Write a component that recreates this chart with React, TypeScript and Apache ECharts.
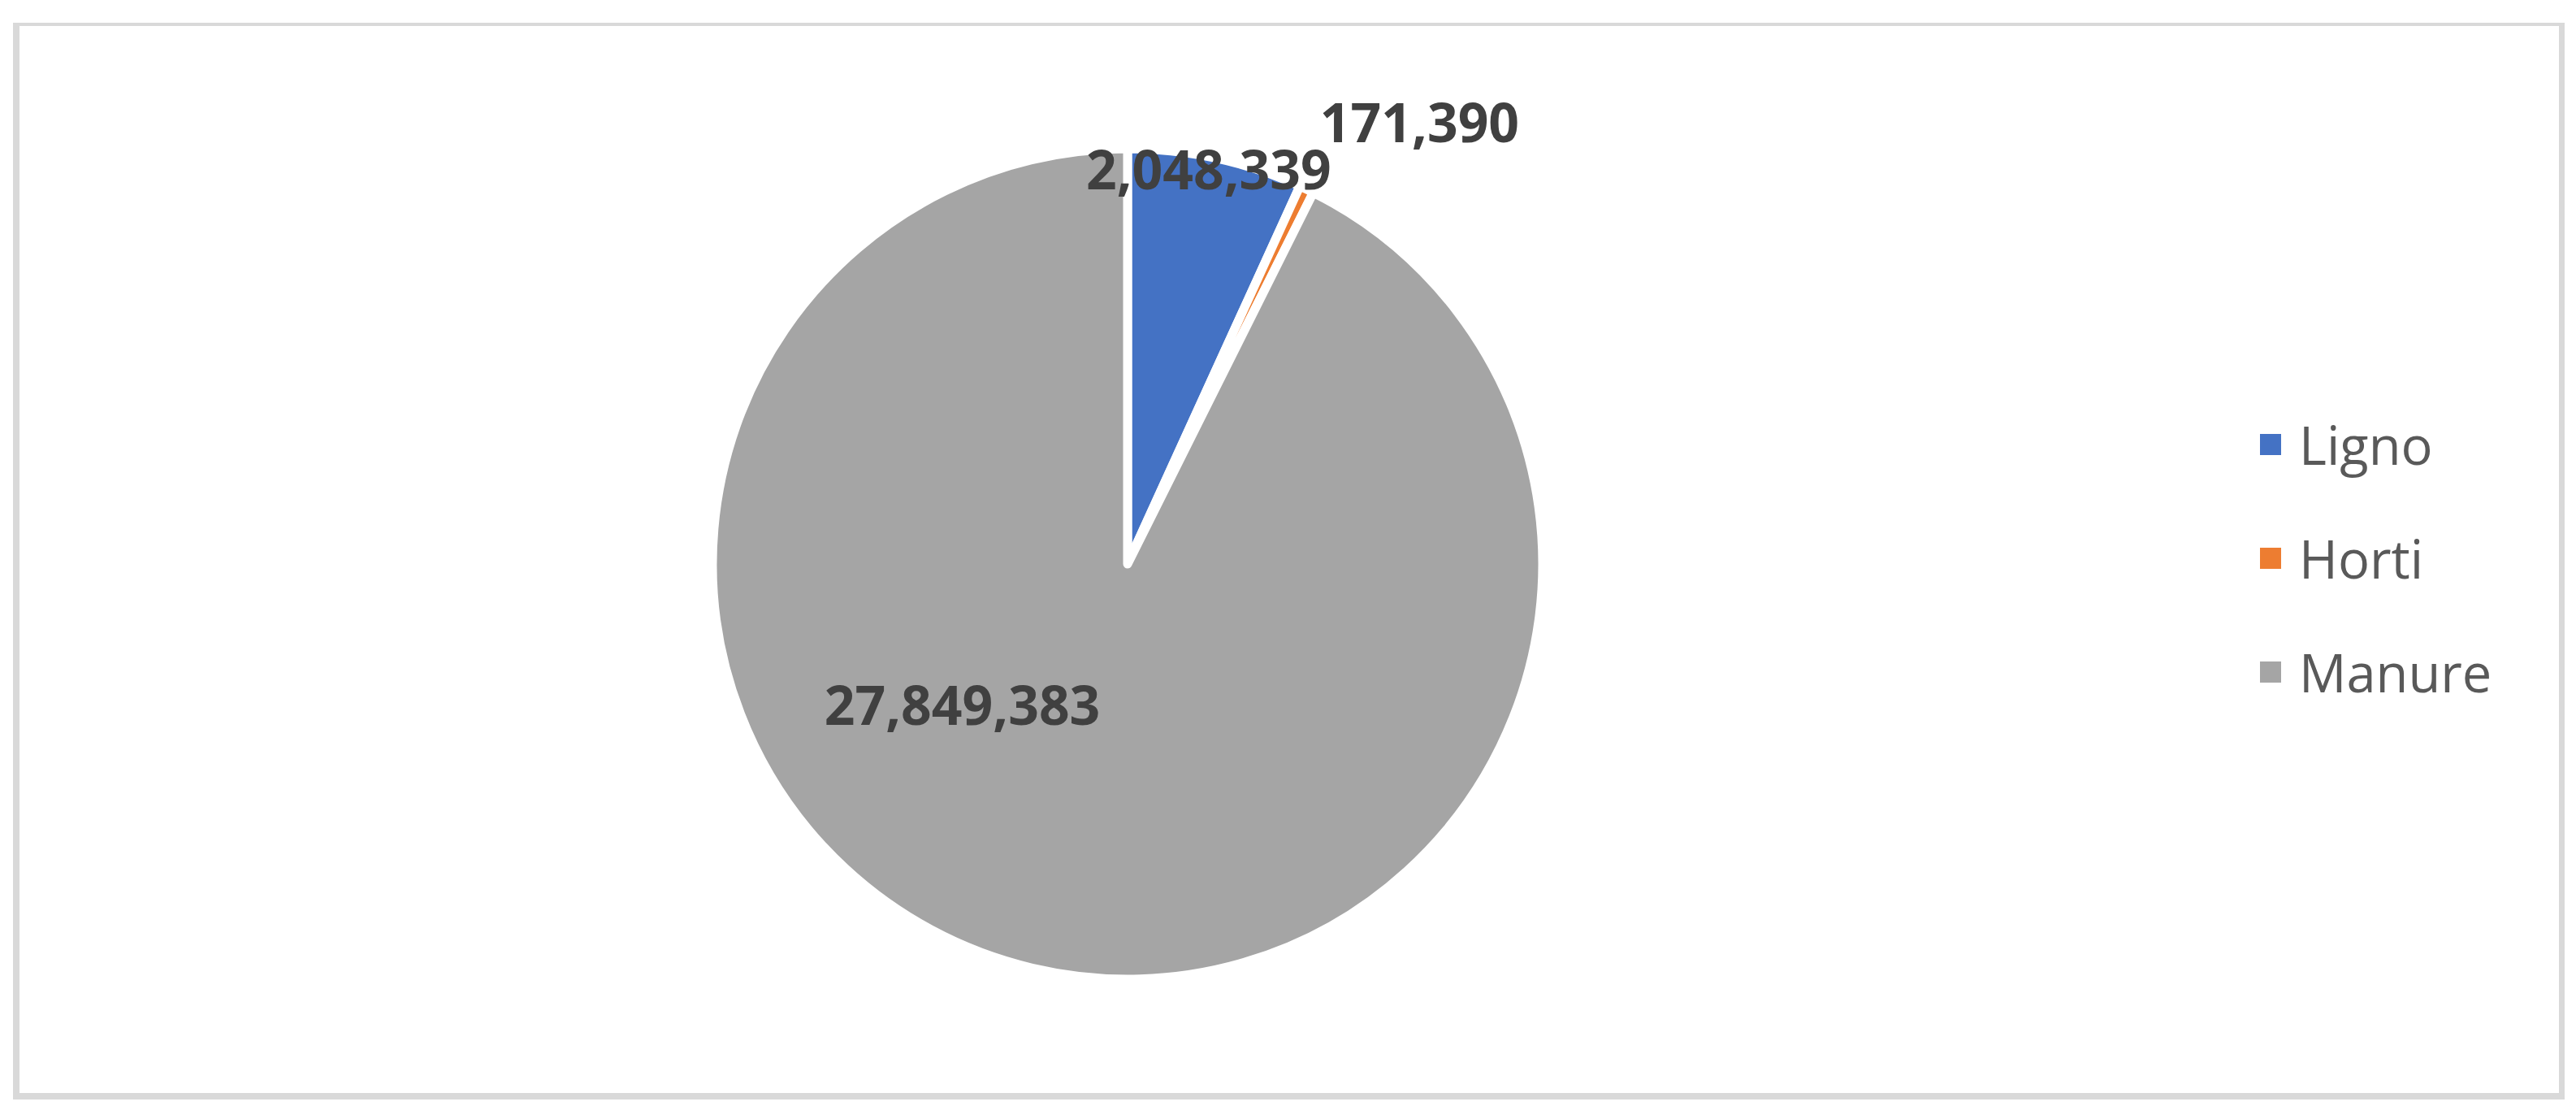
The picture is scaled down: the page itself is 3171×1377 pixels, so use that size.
import React, { useEffect, useRef } from "react";
import * as echarts from "echarts";

const categories = ["Ligno", "Horti", "Manure"];
const values = [2048339, 171390, 27849383];
const colors = ["#4472C4", "#ED7D31", "#A5A5A5"];
// label offsets relative to default inside label position
const labelOffsets = [
  [45, -234],
  [248, -312],
  [-144, -80],
];

export default function App() {
  const ref = useRef<HTMLDivElement>(null);
  useEffect(() => {
    if (!ref.current) return;
    const chart = echarts.init(ref.current, null, { renderer: "svg" });
    chart.setOption({
      animation: false,
      backgroundColor: "#ffffff",
      graphic: [
        { type: "rect", z: -10, shape: { x: 16, y: 28, width: 3141, height: 1325 }, style: { fill: "#d9d9d9" } },
        { type: "rect", z: -9, shape: { x: 24, y: 32, width: 3126, height: 1313 }, style: { fill: "#ffffff" } },
      ],
      legend: {
        orient: "vertical",
        left: 2775,
        top: 507,
        icon: "rect",
        itemWidth: 28,
        itemHeight: 28,
        itemGap: 70,
        data: categories,
        textStyle: {
          fontFamily: "Open Sans",
          fontSize: 65,
          color: "#595959",
          lineHeight: 70,
          padding: [0, 0, 0, 16],
        },
      },
      series: [
        {
          type: "pie",
          center: [1388, 694],
          radius: 511,
          startAngle: 90,
          clockwise: true,
          avoidLabelOverlap: false,
          itemStyle: { borderColor: "#ffffff", borderWidth: 11, borderJoin: "round" },
          label: {
            show: true,
            position: "inside",
            fontFamily: "Open Sans",
            fontWeight: "bold",
            fontSize: 66,
            color: "#404040",
            formatter: (p: any) => p.value.toLocaleString("en-US"),
          },
          labelLine: { show: false },
          labelLayout: (p: any) => ({ dx: labelOffsets[p.dataIndex][0], dy: labelOffsets[p.dataIndex][1] }),
          emphasis: { disabled: true },
          data: categories.map((name, i) => ({ name, value: values[i], itemStyle: { color: colors[i] } })),
        },
      ],
    });
    return () => chart.dispose();
  }, []);
  return <div ref={ref} style={{ position: "fixed", left: 0, top: 0, width: 3171, height: 1377 }} />;
}
